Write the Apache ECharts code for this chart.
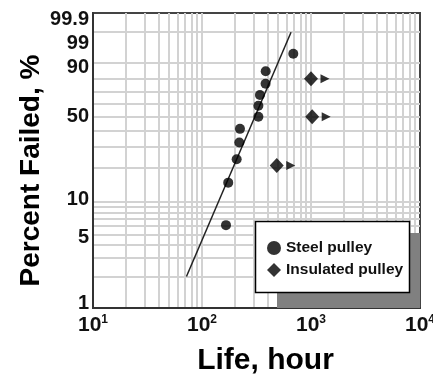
<!DOCTYPE html>
<html>
<head>
<meta charset="utf-8">
<script src="https://cdn.jsdelivr.net/npm/echarts@6/dist/echarts.min.js"></script>
<style>
  html, body { margin: 0; padding: 0; background: #ffffff; }
  #chart { width: 433px; height: 374px; }
</style>
</head>
<body>
<div id="chart"></div>
<script>
// Steel pulley: failure times (hours) and median-rank percentages failed
const steelLife = [166, 174, 208, 220, 223, 329, 329, 340, 383, 384, 688];
const steelFailed = [6.1, 14.9, 23.7, 32.5, 41.2, 50.0, 58.8, 67.5, 76.3, 85.1, 93.9];

// Insulated pulley: suspended (still running) units
const insulatedLife = [1000, 1025, 485];
const insulatedFailed = [80, 50, 21];

// Weibull fit line through the steel pulley data (end points)
const fitLife = [72, 656];
const fitFailed = [2, 98.9];

// Axis ticks
const percentLabels = [1, 5, 10, 50, 90, 99, 99.9];
const percentGrid = [2, 3, 4, 5, 6, 7, 8, 9, 10, 20, 30, 40, 50, 60, 70, 80, 90, 99];
const lifeExponents = [1, 2, 3, 4];
const lifeGridMultipliers = [1, 2, 3, 4, 5, 6, 7, 8, 9];

const seriesNames = ['Steel pulley', 'Insulated pulley'];

// Weibull probability paper: y = ln(-ln(1 - F)), x = log10(t)
const weib = p => Math.log(-Math.log(1 - p / 100));
const lg = t => Math.log10(t);

// Vertical nudges (px) for the percent labels
const labelNudge = { '1': -5, '5': 3, '10': -2, '50': 0, '90': 5, '99': 12, '99.9': 6 };

const FONT = '"Liberation Sans", Arial, sans-serif';

const yRich = {};
const nudgeKeys = Object.keys(labelNudge);
nudgeKeys.forEach((k, i) => {
  const o = labelNudge[k];
  yRich['n' + i] = {
    fontSize: 20, fontWeight: 'bold', fontFamily: FONT, color: '#111',
    padding: o >= 0 ? [2 * o, 0, 0, 0] : [0, 0, -2 * o, 0]
  };
});

const xGridValues = [];
lifeExponents.slice(0, 3).forEach(e => {
  lifeGridMultipliers.forEach(m => {
    const v = lg(m * Math.pow(10, e));
    if (v > lifeExponents[0] + 1e-9) xGridValues.push(v);
  });
});

const chart = echarts.init(document.getElementById('chart'), null, { renderer: 'canvas' });

chart.setOption({
  animation: false,
  backgroundColor: '#ffffff',
  grid: {
    left: 93, top: 13, width: 327, height: 295,
    outerBoundsMode: 'none',
    containLabel: false,
    show: true, borderColor: '#444', borderWidth: 2, backgroundColor: 'transparent'
  },
  xAxis: {
    type: 'value',
    min: lifeExponents[0],
    max: lifeExponents[lifeExponents.length - 1],
    name: 'Life, hour',
    nameLocation: 'middle',
    nameGap: 38,
    nameTextStyle: { fontSize: 30, fontWeight: 'bold', fontFamily: FONT, color: '#000', padding: [0, 0, 0, 18] },
    axisLine: { show: true, onZero: false, lineStyle: { color: '#333', width: 2 } },
    axisTick: { show: false, customValues: xGridValues },
    splitLine: { show: true, lineStyle: { color: '#d2d2d2', width: 2 } },
    axisLabel: {
      customValues: lifeExponents,
      margin: 6,
      formatter: v => '{b|10}{s|' + Math.round(v) + '}',
      rich: {
        b: { fontSize: 21, fontWeight: 'bold', fontFamily: FONT, color: '#111', lineHeight: 22 },
        s: { fontSize: 12, fontWeight: 'bold', fontFamily: FONT, color: '#111', lineHeight: 22, verticalAlign: 'top' }
      }
    }
  },
  yAxis: {
    type: 'value',
    min: weib(percentLabels[0]),
    max: weib(percentLabels[percentLabels.length - 1]),
    name: 'Percent Failed, %',
    nameLocation: 'middle',
    nameMoveOverlap: false,
    nameGap: 48,
    nameTextStyle: { fontSize: 28, fontWeight: 'bold', fontFamily: FONT, color: '#000', padding: [0, 20, 0, 0] },
    axisLine: { show: true, onZero: false, lineStyle: { color: '#333', width: 2 } },
    axisTick: { show: false, customValues: percentGrid.map(weib) },
    splitLine: { show: true, lineStyle: { color: '#d2d2d2', width: 2 } },
    axisLabel: {
      customValues: percentLabels.map(weib),
      margin: 4,
      formatter: v => {
        let best = 0, bestD = Infinity;
        percentLabels.forEach((p, i) => {
          const d = Math.abs(weib(p) - v);
          if (d < bestD) { bestD = d; best = i; }
        });
        const key = String(percentLabels[best]);
        return '{n' + nudgeKeys.indexOf(key) + '|' + key + '}';
      },
      rich: yRich
    }
  },
  legend: {
    data: [
      { name: seriesNames[0], icon: 'circle' },
      { name: seriesNames[1], icon: 'diamond' }
    ],
    orient: 'vertical',
    left: 262,
    top: 235,
    itemWidth: 14,
    itemHeight: 14,
    itemGap: 6,
    z: 60,
    textStyle: { fontSize: 15.5, fontWeight: 'bold', fontFamily: FONT, color: '#111' },
    selectedMode: false
  },
  graphic: [
    {
      type: 'rect', z: 50,
      shape: { x: 277, y: 233, width: 143, height: 75 },
      style: { fill: '#808080' }
    },
    {
      type: 'rect', z: 51,
      shape: { x: 255.5, y: 221.5, width: 154, height: 71 },
      style: { fill: '#ffffff', stroke: '#000000', lineWidth: 1.5 }
    }
  ],
  series: [
    {
      name: 'Weibull fit',
      type: 'line',
      data: fitLife.map((t, i) => [lg(t), weib(fitFailed[i])]),
      showSymbol: false,
      lineStyle: { color: '#222', width: 1.5 },
      z: 3
    },
    {
      name: seriesNames[0],
      type: 'scatter',
      data: steelLife.map((t, i) => [lg(t), weib(steelFailed[i])]),
      symbol: 'circle',
      symbolSize: 10,
      itemStyle: { color: '#000' },
      z: 4
    },
    {
      name: seriesNames[1],
      type: 'scatter',
      data: insulatedLife.map((t, i) => [lg(t), weib(insulatedFailed[i])]),
      symbol: 'diamond',
      symbolSize: [14, 15],
      itemStyle: { color: '#000' },
      z: 4
    },
    {
      name: 'Suspended',
      type: 'scatter',
      data: insulatedLife.map((t, i) => [lg(t), weib(insulatedFailed[i])]),
      symbol: 'triangle',
      symbolRotate: -90,
      symbolSize: 9,
      symbolOffset: [14, 0],
      itemStyle: { color: '#000' },
      z: 4
    }
  ]
});
</script>
</body>
</html>
